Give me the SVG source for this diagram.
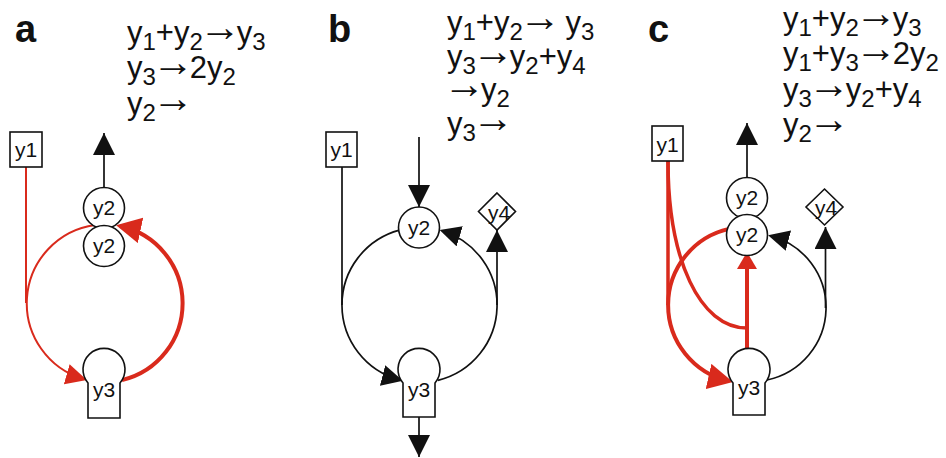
<svg xmlns="http://www.w3.org/2000/svg" width="946" height="458" viewBox="0 0 946 458">
<style>
text{font-family:"Liberation Sans",Arial,Helvetica,sans-serif;fill:#111}
.lbl{font-size:38px;font-weight:bold}
.rx{font-size:31px}
.sub{font-size:24px}
.ar{font-size:42px}
.nt{font-size:21px;text-anchor:middle}
.node{fill:#fff;stroke:#111;stroke-width:1.6}
.blk{fill:none;stroke:#111;stroke-width:1.7}
.rt{fill:none;stroke:#d92a1c;stroke-width:2}
.rk{fill:none;stroke:#d92a1c;stroke-width:4}
</style>
<defs>
<marker id="ab" markerUnits="userSpaceOnUse" markerWidth="22" markerHeight="22" refX="22" refY="11" orient="auto" viewBox="0 0 22 22"><path d="M0,0 L22,11 L0,22 Z" fill="#111"/></marker>
<marker id="abx" markerUnits="userSpaceOnUse" markerWidth="21" markerHeight="21" refX="18" refY="10.5" orient="auto" viewBox="0 0 21 21"><path d="M0,0 L21,10.5 L0,21 Z" fill="#111"/></marker>
<marker id="rthin" markerUnits="userSpaceOnUse" markerWidth="21" markerHeight="21" refX="18" refY="10.5" orient="auto" viewBox="0 0 21 21"><path d="M0,0 L21,10.5 L0,21 Z" fill="#d92a1c"/></marker>
<marker id="rbig" markerUnits="userSpaceOnUse" markerWidth="25" markerHeight="26" refX="21" refY="13" orient="auto" viewBox="0 0 25 26"><path d="M0,0 L25,13 L0,26 Z" fill="#d92a1c"/></marker>
<marker id="rsm" markerUnits="userSpaceOnUse" markerWidth="17" markerHeight="20" refX="14" refY="10" orient="auto" viewBox="0 0 17 20"><path d="M0,0 L17,10 L0,20 Z" fill="#d92a1c"/></marker>
</defs>

<g id="labels">
<text class="lbl" x="15" y="42">a</text>
<text class="lbl" x="328" y="42">b</text>
<text class="lbl" x="648" y="42">c</text>
</g>

<g id="reactions-a">
<text class="rx" x="127" y="43">y<tspan class="sub" y="50">1</tspan><tspan y="43">+y</tspan><tspan class="sub" y="50">2</tspan><tspan class="ar" dx="-4" y="41">→</tspan><tspan dx="-4" y="43">y</tspan><tspan class="sub" y="50">3</tspan></text>
<text class="rx" x="127" y="78">y<tspan class="sub" y="85">3</tspan><tspan class="ar" dx="-4" y="76">→</tspan><tspan dx="-4" y="78">2y</tspan><tspan class="sub" y="85">2</tspan></text>
<text class="rx" x="127" y="114">y<tspan class="sub" y="121">2</tspan><tspan class="ar" dx="-4" y="112">→</tspan></text>
</g>

<g id="reactions-b">
<text class="rx" x="447" y="33">y<tspan class="sub" y="40">1</tspan><tspan y="33">+y</tspan><tspan class="sub" y="40">2</tspan><tspan class="ar" dx="-4" y="31">→</tspan><tspan dx="-4" y="33"> y</tspan><tspan class="sub" y="40">3</tspan></text>
<text class="rx" x="447" y="67">y<tspan class="sub" y="74">3</tspan><tspan class="ar" dx="-4" y="65">→</tspan><tspan dx="-4" y="67">y</tspan><tspan class="sub" y="74">2</tspan><tspan y="67">+y</tspan><tspan class="sub" y="74">4</tspan></text>
<text class="rx" x="447" y="100"><tspan class="ar" dx="-4" y="98">→</tspan><tspan dx="-4" y="100">y</tspan><tspan class="sub" y="107">2</tspan></text>
<text class="rx" x="447" y="134">y<tspan class="sub" y="141">3</tspan><tspan class="ar" dx="-4" y="132">→</tspan></text>
</g>

<g id="reactions-c">
<text class="rx" x="783" y="29">y<tspan class="sub" y="36">1</tspan><tspan y="29">+y</tspan><tspan class="sub" y="36">2</tspan><tspan class="ar" dx="-4" y="27">→</tspan><tspan dx="-4" y="29">y</tspan><tspan class="sub" y="36">3</tspan></text>
<text class="rx" x="783" y="64">y<tspan class="sub" y="71">1</tspan><tspan y="64">+y</tspan><tspan class="sub" y="71">3</tspan><tspan class="ar" dx="-4" y="62">→</tspan><tspan dx="-4" y="64">2y</tspan><tspan class="sub" y="71">2</tspan></text>
<text class="rx" x="783" y="100">y<tspan class="sub" y="107">3</tspan><tspan class="ar" dx="-4" y="98">→</tspan><tspan dx="-4" y="100">y</tspan><tspan class="sub" y="107">2</tspan><tspan y="100">+y</tspan><tspan class="sub" y="107">4</tspan></text>
<text class="rx" x="783" y="135">y<tspan class="sub" y="142">2</tspan><tspan class="ar" dx="-4" y="133">→</tspan></text>
</g>

<g id="connectors">
  <!-- panel a -->
  <path class="rt" d="M26,167 V303"/>
  <path class="rt" d="M95,225 A79 79 0 0 0 84,379.2" marker-end="url(#rthin)"/>
  <path class="rk" d="M122,380.1 A79 79 0 0 0 120,226" marker-end="url(#rbig)"/>
  <path class="blk" d="M104,188 V133" marker-end="url(#ab)"/>
  <!-- panel b -->
  <path class="blk" d="M342,167 V305"/>
  <path class="blk" d="M399.5,230.1 A77.5 77.5 0 0 0 400,380" marker-end="url(#abx)"/>
  <path class="blk" d="M438,380.3 A77.5 77.5 0 0 0 442.5,231" marker-end="url(#abx)"/>
  <path class="blk" d="M497,305 V230" marker-end="url(#ab)"/>
  <path class="blk" d="M419,137 V207" marker-end="url(#ab)"/>
  <path class="blk" d="M419,417 V457" marker-end="url(#ab)"/>
  <!-- panel c -->
  <path class="blk" d="M767,380 A74 74 0 0 0 771,236" marker-end="url(#abx)"/>
  <path class="blk" d="M825.5,308 V227" marker-end="url(#ab)"/>
  <path class="blk" d="M747,177 V123" marker-end="url(#ab)"/>
  <path class="rk" style="stroke-width:3.5" d="M668,161 V305"/>
  <path class="rk" style="stroke-width:3.5" d="M668,161 C668,260 700,328 747,328"/>
  <path class="rk" d="M729,228.9 A78 78 0 0 0 729,381.1" marker-end="url(#rbig)"/>
  <path class="rk" d="M747,348 V255" marker-end="url(#rsm)"/>
</g>

<g id="a-y1"><rect class="node" x="10" y="132" width="32" height="35"/><text class="nt" x="26" y="157">y1</text></g>
<g id="a-y2-top"><circle class="node" cx="104" cy="208" r="20.5"/><text class="nt" x="104" y="215">y2</text></g>
<g id="a-y2-bot"><circle class="node" cx="104" cy="246" r="20.5"/><text class="nt" x="104" y="253">y2</text></g>
<g id="a-y3"><path class="node" d="M88,383 A21 21 0 1 1 120,383 V418 H88 Z"/><text class="nt" x="104" y="397">y3</text></g>

<g id="b-y1"><rect class="node" x="326" y="132" width="31" height="35"/><text class="nt" x="341.5" y="157">y1</text></g>
<g id="b-y2"><circle class="node" cx="419" cy="227.5" r="20.5"/><text class="nt" x="419" y="235">y2</text></g>
<g id="b-y4"><path class="node" d="M497,193 L515.5,211.5 L497,230 L478.5,211.5 Z"/><text class="nt" x="499" y="220">y4</text></g>
<g id="b-y3"><path class="node" d="M403,383 A21 21 0 1 1 435,383 V417 H403 Z"/><text class="nt" x="419" y="397">y3</text></g>

<g id="c-y1"><rect class="node" x="652" y="126" width="31" height="35"/><text class="nt" x="667.5" y="152">y1</text></g>
<g id="c-y2-top"><circle class="node" cx="747" cy="198" r="20.5"/><text class="nt" x="747" y="205">y2</text></g>
<g id="c-y2-bot"><circle class="node" cx="747" cy="235" r="20.5"/><text class="nt" x="747" y="242">y2</text></g>
<g id="c-y4"><path class="node" d="M824.5,189 L843,207 L824.5,225 L806,207 Z"/><text class="nt" x="826" y="215">y4</text></g>
<g id="c-y3"><path class="node" d="M733,383 A21 21 0 1 1 765,383 V415 H733 Z"/><text class="nt" x="749" y="395">y3</text></g>
</svg>
